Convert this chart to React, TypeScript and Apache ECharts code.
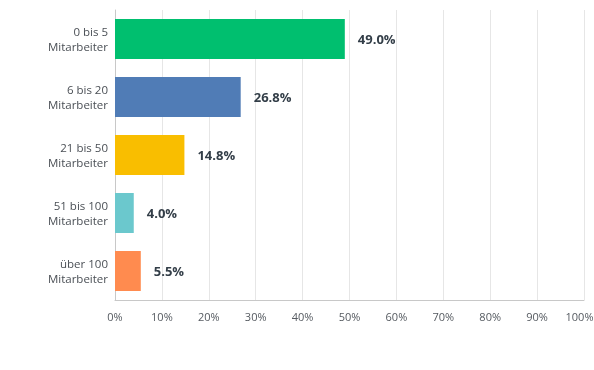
import React, { useEffect, useRef } from "react";
import * as echarts from "echarts";

const categories = ["0 bis 5\nMitarbeiter", "6 bis 20\nMitarbeiter", "21 bis 50\nMitarbeiter", "51 bis 100\nMitarbeiter", "über 100\nMitarbeiter"];
const values = [49.0, 26.8, 14.8, 4.0, 5.5];
const colors = ["#00BF6F", "#507CB6", "#F9BE00", "#6BC8CD", "#FF8B4F"];

export default function App() {
  const ref = useRef<HTMLDivElement>(null);
  useEffect(() => {
    const chart = echarts.init(ref.current!, null, { renderer: "svg" });
    chart.setOption({
      animation: false,
      grid: { left: 115, right: 10, top: 10, bottom: 70, containLabel: false, outerBoundsMode: "none" },
      xAxis: {
        type: "value",
        min: 0,
        max: 100,
        interval: 10,
        axisLine: { show: true, lineStyle: { color: "#c8c8c8" } },
        axisTick: { show: false },
        splitLine: { show: true, lineStyle: { color: "#e6e6e6" } },
        axisLabel: {
          formatter: (v: number) => (v === 100 ? "{m|100%}" : v + "%"),
          color: "#555a60",
          fontSize: 11,
          fontFamily: "Open Sans",
          margin: 11,
          rich: { m: { padding: [0, 9, 0, 0], color: "#555a60", fontSize: 11, fontFamily: "Open Sans" } },
        },
      },
      yAxis: {
        type: "category",
        data: categories,
        inverse: true,
        axisLine: { show: true, lineStyle: { color: "#c8c8c8" } },
        axisTick: { show: false },
        axisLabel: { color: "#4a4f55", fontSize: 11.5, fontFamily: "Open Sans", lineHeight: 15, margin: 7 },
      },
      series: [
        {
          type: "bar",
          barWidth: 40,
          data: values.map((v, i) => ({ value: v, itemStyle: { color: colors[i] } })),
          label: {
            show: true,
            position: "right",
            distance: 13,
            formatter: (p: any) => p.value.toFixed(1) + "%",
            color: "#333e48",
            fontWeight: "bold",
            fontSize: 13,
            fontFamily: "Open Sans",
          },
        },
      ],
    });
    return () => chart.dispose();
  }, []);
  return <div ref={ref} style={{ position: "fixed", left: 0, top: 0, width: 594, height: 370 }} />;
}
